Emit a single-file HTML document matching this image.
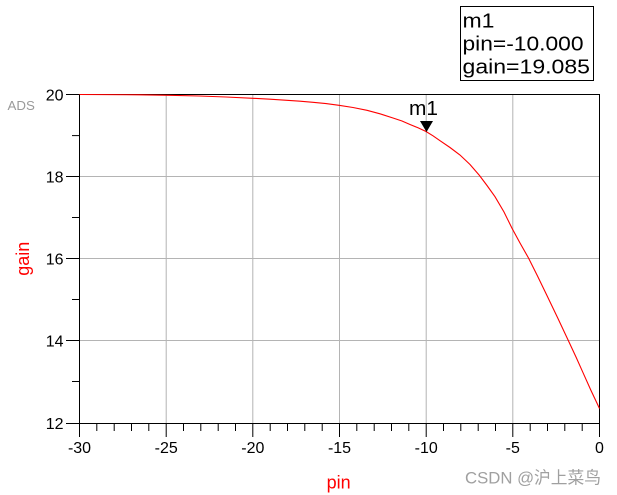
<!DOCTYPE html>
<html><head><meta charset="utf-8"><style>
html,body{margin:0;padding:0;background:#fff;}
svg{display:block;}
text{font-family:"Liberation Sans",Arial,sans-serif;}
</style></head><body>
<svg width="617" height="495" viewBox="0 0 617 495" xmlns="http://www.w3.org/2000/svg">
<rect width="617" height="495" fill="#fff"/>
<!-- grid -->
<g stroke="#b4b4b4" stroke-width="1">
<line x1="166.2" y1="94.5" x2="166.2" y2="423.5"/>
<line x1="252.8" y1="94.5" x2="252.8" y2="423.5"/>
<line x1="339.5" y1="94.5" x2="339.5" y2="423.5"/>
<line x1="426.2" y1="94.5" x2="426.2" y2="423.5"/>
<line x1="512.8" y1="94.5" x2="512.8" y2="423.5"/>
<line x1="79.5" y1="176.5" x2="599.5" y2="176.5"/>
<line x1="79.5" y1="258.5" x2="599.5" y2="258.5"/>
<line x1="79.5" y1="340.5" x2="599.5" y2="340.5"/>
</g>
<!-- box -->
<rect x="79.5" y="94.5" width="520" height="329" fill="none" stroke="#000" stroke-width="1"/>
<!-- y ticks -->
<g stroke="#000" stroke-width="1">
<line x1="66" y1="94.5" x2="79.5" y2="94.5"/>
<line x1="72" y1="135.6" x2="79.5" y2="135.6"/>
<line x1="66" y1="176.5" x2="79.5" y2="176.5"/>
<line x1="72" y1="217.5" x2="79.5" y2="217.5"/>
<line x1="66" y1="258.5" x2="79.5" y2="258.5"/>
<line x1="72" y1="299.5" x2="79.5" y2="299.5"/>
<line x1="66" y1="340.5" x2="79.5" y2="340.5"/>
<line x1="72" y1="381.5" x2="79.5" y2="381.5"/>
<line x1="66" y1="423.5" x2="79.5" y2="423.5"/>
</g>
<!-- x ticks -->
<g stroke="#000" stroke-width="1">
<line x1="79.5" y1="423.5" x2="79.5" y2="437"/>
<line x1="96.8" y1="423.5" x2="96.8" y2="431"/>
<line x1="114.2" y1="423.5" x2="114.2" y2="431"/>
<line x1="131.5" y1="423.5" x2="131.5" y2="431"/>
<line x1="148.8" y1="423.5" x2="148.8" y2="431"/>
<line x1="166.2" y1="423.5" x2="166.2" y2="437"/>
<line x1="183.5" y1="423.5" x2="183.5" y2="431"/>
<line x1="200.8" y1="423.5" x2="200.8" y2="431"/>
<line x1="218.2" y1="423.5" x2="218.2" y2="431"/>
<line x1="235.5" y1="423.5" x2="235.5" y2="431"/>
<line x1="252.8" y1="423.5" x2="252.8" y2="437"/>
<line x1="270.2" y1="423.5" x2="270.2" y2="431"/>
<line x1="287.5" y1="423.5" x2="287.5" y2="431"/>
<line x1="304.8" y1="423.5" x2="304.8" y2="431"/>
<line x1="322.2" y1="423.5" x2="322.2" y2="431"/>
<line x1="339.5" y1="423.5" x2="339.5" y2="437"/>
<line x1="356.8" y1="423.5" x2="356.8" y2="431"/>
<line x1="374.2" y1="423.5" x2="374.2" y2="431"/>
<line x1="391.5" y1="423.5" x2="391.5" y2="431"/>
<line x1="408.8" y1="423.5" x2="408.8" y2="431"/>
<line x1="426.2" y1="423.5" x2="426.2" y2="437"/>
<line x1="443.5" y1="423.5" x2="443.5" y2="431"/>
<line x1="460.8" y1="423.5" x2="460.8" y2="431"/>
<line x1="478.2" y1="423.5" x2="478.2" y2="431"/>
<line x1="495.5" y1="423.5" x2="495.5" y2="431"/>
<line x1="512.8" y1="423.5" x2="512.8" y2="437"/>
<line x1="530.2" y1="423.5" x2="530.2" y2="431"/>
<line x1="547.5" y1="423.5" x2="547.5" y2="431"/>
<line x1="564.8" y1="423.5" x2="564.8" y2="431"/>
<line x1="582.2" y1="423.5" x2="582.2" y2="431"/>
<line x1="599.5" y1="423.5" x2="599.5" y2="437"/>
</g>
<!-- y labels -->
<g font-size="16" fill="#000" text-anchor="end">
<text x="63.5" y="100.5">20</text>
<text x="63.5" y="182.5">18</text>
<text x="63.5" y="264.5">16</text>
<text x="63.5" y="346.5">14</text>
<text x="63.5" y="429">12</text>
</g>
<!-- x labels -->
<g font-size="16" fill="#000" text-anchor="middle">
<text x="79.5" y="453">-30</text>
<text x="166.2" y="453">-25</text>
<text x="252.8" y="453">-20</text>
<text x="339.5" y="453">-15</text>
<text x="426.2" y="453">-10</text>
<text x="512.8" y="453">-5</text>
<text x="599.5" y="453">0</text>
</g>
<!-- curve -->
<polyline fill="none" stroke="#ff0000" stroke-width="1.1" points="79.5,94.5 139,94.8 170,95.3 199,96 226,97 253,98.3 270,99.2 287,100.3 300,101.2 313,102.3 326,103.6 339,105.3 353,107.5 367,110.3 380,113.8 393,118 402,121 410,124.5 418,127.8 426,131.5 433,135.8 440,140.7 450,147.5 460,155 470,164.5 479.5,175.5 487,185.5 495,196.7 504,212 512,228.3 520,243 528.5,258 537.5,276 546.7,295 557.5,317.5 568.3,340.5 576,357 583.3,373.3 591,390.5 599.5,408.5"/>
<!-- marker -->
<polygon points="420,121 433,121 426.5,132" fill="#000"/>
<text x="409" y="115" font-size="20.5" fill="#000" textLength="29" lengthAdjust="spacingAndGlyphs">m1</text>
<!-- marker box -->
<rect x="460.5" y="6.5" width="133" height="74" fill="#fff" stroke="#000" stroke-width="1"/>
<g font-size="20" fill="#000">
<text x="462.5" y="27.7" textLength="32" lengthAdjust="spacingAndGlyphs">m1</text>
<text x="462.5" y="50.7" textLength="121" lengthAdjust="spacingAndGlyphs">pin=-10.000</text>
<text x="462.5" y="73.7" textLength="127.5" lengthAdjust="spacingAndGlyphs">gain=19.085</text>
</g>
<!-- axis titles -->
<text x="338.7" y="488.5" font-size="18" fill="#ff0000" text-anchor="middle">pin</text>
<text transform="translate(29,258.7) rotate(-90)" font-size="18" fill="#ff0000" text-anchor="middle">gain</text>
<text x="7.5" y="110" font-size="13.3" fill="#9a9a9a">ADS</text>
<text x="465" y="483.5" font-size="17" fill="#a0a0a0" textLength="136" lengthAdjust="spacingAndGlyphs" style='font-family:"Liberation Sans","Noto Sans CJK SC",sans-serif'>CSDN @沪上菜鸟</text>
</svg>
</body></html>
